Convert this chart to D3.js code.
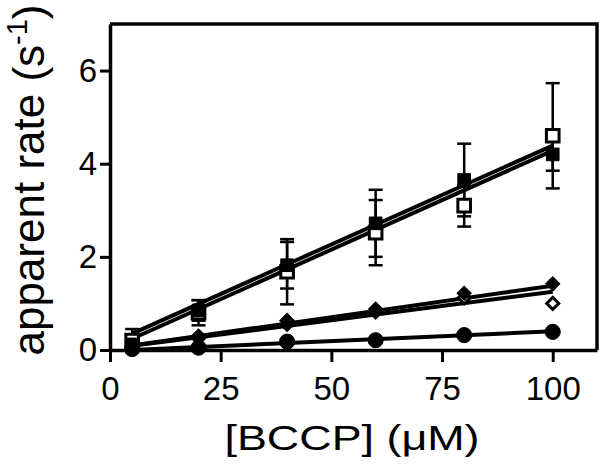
<!DOCTYPE html>
<html>
<head>
<meta charset="utf-8">
<script src="https://cdn.jsdelivr.net/npm/d3@7"></script>
<style>
  body { margin: 0; background: #fff; }
  svg { display: block; font-family: "Liberation Sans", Arial, sans-serif; }
</style>
</head>
<body>
<svg id="chart" width="600" height="464"></svg>
<script>
// BCCP concentrations (uM)
const conc = [5, 20, 40, 60, 80, 100];

// filled squares / open squares, with SD
const sqFilled = [0.12, 0.85, 1.82, 2.72, 3.65, 4.2];
const sqFilledErr = [0.15, 0.22, 0.5, 0.72, 0.78, 0.35];
const sqOpen = [0.2, 0.8, 1.68, 2.52, 3.1, 4.6];
const sqOpenErr = [0.25, 0.27, 0.7, 0.7, 0.45, 1.13];

// diamonds and circles
const diaFilled = [0.05, 0.3, 0.55, 0.88, 1.22, 1.42];
const diaOpen = [0.08, 0.25, 0.63, 0.82, 1.12, 1.0];
const circFilled = [0.02, 0.05, 0.18, 0.21, 0.32, 0.39];

// linear fits: slope, intercept
const fitNames = ['sqFilled', 'sqOpen', 'diaFilled', 'diaOpen', 'circFilled'];
const fitSlopes = [0.0425, 0.0425, 0.0135, 0.0122, 0.0042];
const fitIntercepts = [0.14, 0.03, 0.03, 0.03, -0.02];

const xTicks = [0, 25, 50, 75, 100];
const yTicks = [0, 2, 4, 6];

const svg = d3.select('#chart');

const x = d3.scaleLinear().domain([0, 110]).range([110, 597]);
const y = d3.scaleLinear().domain([0, 7]).range([350, 24]);

// frame: top and right
svg.append('path')
  .attr('d', `M${x(0)},${y(7)}H${x(110)}V${y(0)}`)
  .attr('fill', 'none')
  .attr('stroke', '#000')
  .attr('stroke-width', 3.5);

let xAxis = svg.append('g')
  .attr('transform', `translate(0,${y(0)})`)
  .call(d3.axisBottom(x).tickValues(xTicks).tickFormat(d3.format('d'))
    .tickSize(12).tickPadding(15).tickSizeOuter(0));

let yAxis = svg.append('g')
  .attr('transform', `translate(${x(0)},0)`)
  .call(d3.axisLeft(y).tickValues(yTicks).tickFormat(d3.format('d'))
    .tickSize(10).tickPadding(3).tickSizeOuter(0));

[xAxis, yAxis].forEach(g => {
  g.select('.domain').attr('stroke-width', 3.5);
  g.selectAll('.tick line').attr('stroke-width', 3);
  g.selectAll('.tick text')
    .attr('font-size', 33)
    .attr('font-family', '"Liberation Sans", Arial, sans-serif')
    .attr('fill', '#000');
});

// fit lines from 5 to 100
fitNames.forEach((name, i) => {
  let pts = [5, 100].map(c => [x(c), y(fitSlopes[i] * c + fitIntercepts[i])]);
  svg.append('path')
    .attr('d', d3.line()(pts))
    .attr('stroke', '#000')
    .attr('stroke-width', 4)
    .attr('fill', 'none');
});

// error bars
function errorBars(vals, errs) {
  let g = svg.append('g').attr('stroke', '#000').attr('stroke-width', 2.5);
  conc.forEach((c, i) => {
    let cx = x(c);
    let top = y(vals[i] + errs[i]);
    let bot = y(vals[i] - errs[i]);
    g.append('line').attr('x1', cx).attr('x2', cx).attr('y1', top).attr('y2', bot);
    g.append('line').attr('x1', cx - 7).attr('x2', cx + 7).attr('y1', top).attr('y2', top);
    g.append('line').attr('x1', cx - 7).attr('x2', cx + 7).attr('y1', bot).attr('y2', bot);
  });
}
errorBars(sqOpen, sqOpenErr);
errorBars(sqFilled, sqFilledErr);

function markers(vals, type, size, open, rot) {
  let sym = d3.symbol().type(type).size(size);
  svg.append('g').selectAll('path')
    .data(vals)
    .join('path')
    .attr('d', sym)
    .attr('transform', (d, i) => `translate(${x(conc[i])},${y(d)}) rotate(${rot})`)
    .attr('fill', open ? '#fff' : '#000')
    .attr('stroke', '#000')
    .attr('stroke-width', open ? 3 : 1);
}

markers(circFilled, d3.symbolCircle, 180, false, 0);
markers(diaOpen, d3.symbolSquare, 72, true, 45);
markers(diaFilled, d3.symbolSquare, 100, false, 45);
markers(sqOpen, d3.symbolSquare, 160, true, 0);
markers(sqFilled, d3.symbolSquare, 160, false, 0);

// axis titles
svg.append('text')
  .attr('x', 352)
  .attr('y', 450)
  .attr('text-anchor', 'middle')
  .attr('font-size', 35)
  .attr('textLength', 255)
  .attr('lengthAdjust', 'spacingAndGlyphs')
  .text('[BCCP] (\u03bcM)');

let ylab = svg.append('text')
  .attr('transform', 'translate(44,180) rotate(-90)')
  .attr('text-anchor', 'middle')
  .attr('font-size', 44);
ylab.append('tspan').text('apparent rate (s');
ylab.append('tspan').attr('dy', -17).attr('font-size', 29).text('-1');
ylab.append('tspan').attr('dy', 17).text(')');
</script>
</body>
</html>
